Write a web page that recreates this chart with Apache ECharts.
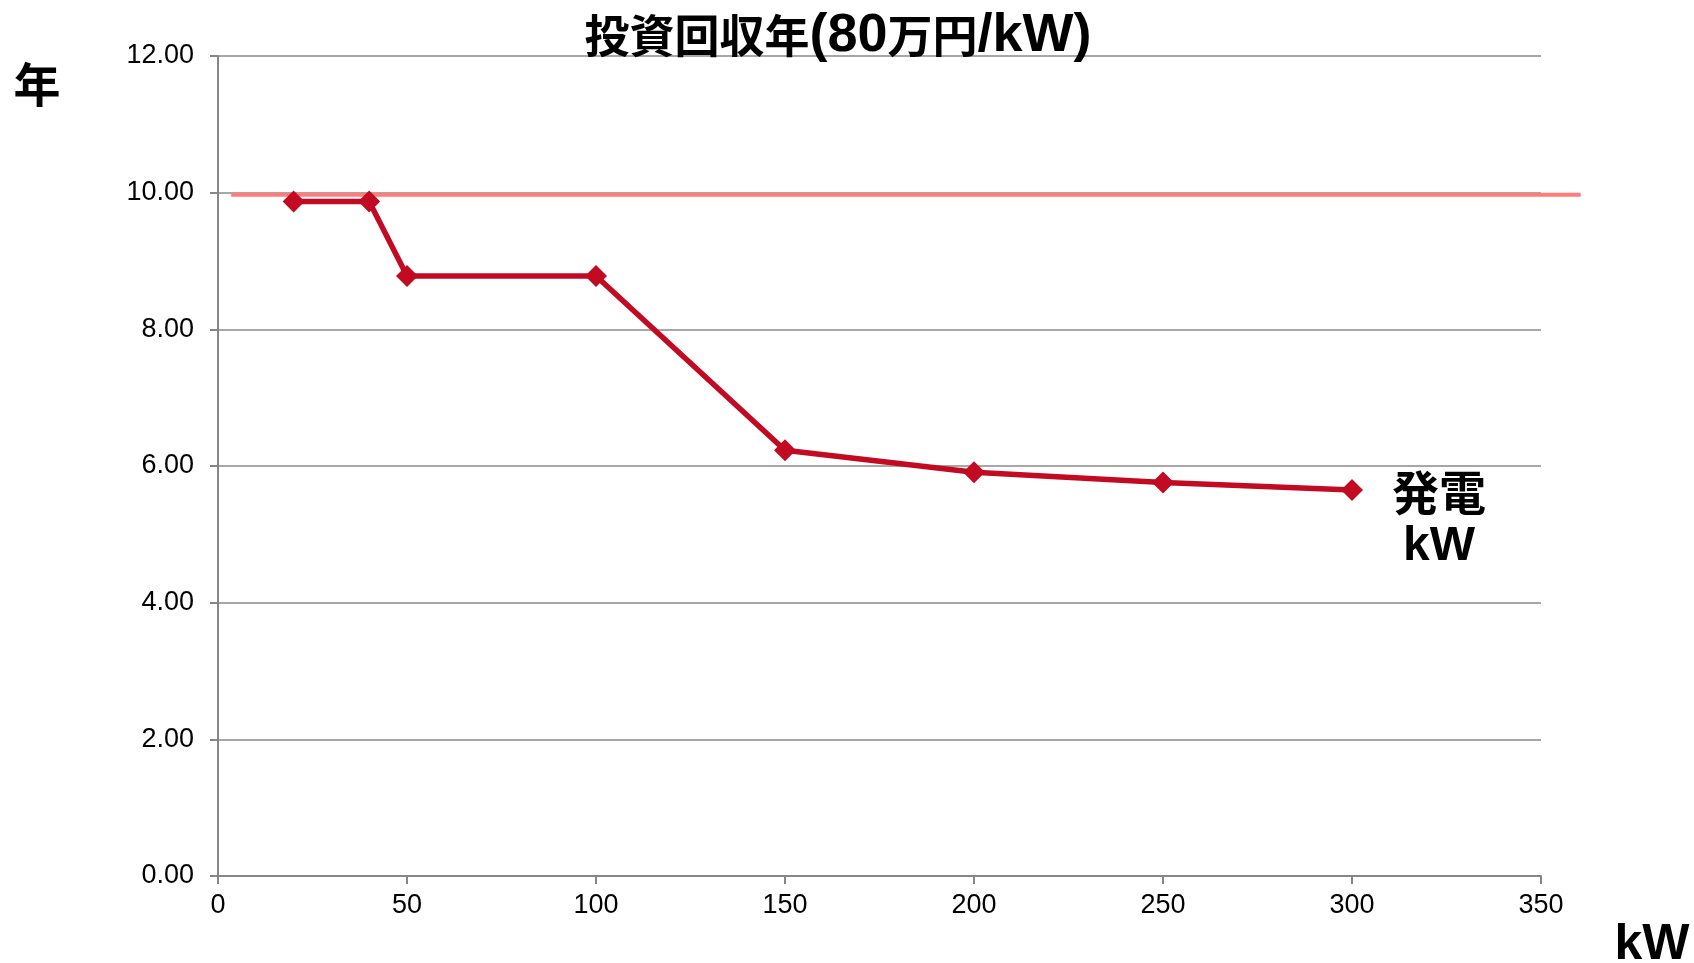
<!DOCTYPE html>
<html>
<head>
<meta charset="utf-8">
<script src="https://cdn.jsdelivr.net/npm/echarts@6/dist/echarts.min.js"></script>
<style>html,body{margin:0;padding:0;background:#fff}#c{width:1694px;height:963px}</style>
</head>
<body>
<div id="c"></div>
<script>
// data
const capacityKW = [20, 40, 50, 100, 150, 200, 250, 300];
const paybackYears = [9.87, 9.87, 8.78, 8.78, 6.23, 5.91, 5.76, 5.65];
const refLineX = [3.5, 360.5];
const refLineY = [9.97, 9.97];
const xTicks = [0, 50, 100, 150, 200, 250, 300, 350];
const yTicks = [0, 2, 4, 6, 8, 10, 12];
const titleCJK1 = '投資回収年';
const titleLat1 = '(80';
const titleCJK2 = '万円';
const titleLat2 = '/kW)';

const chart = echarts.init(document.getElementById('c'));
const cjk = '"Noto Sans CJK JP", sans-serif';
const lat = '"Liberation Sans", Arial, sans-serif';
const gridCol = '#8a8a8a';

// main grid: x 0..350 over [218, 1541]
const gLeft = 218, gRight = 153, W = 1694;
const xMax = xTicks[xTicks.length - 1];
const pxPerUnit = (W - gLeft - gRight) / xMax;
// auxiliary grid with identical scale, but wider extent for the reference line
const auxMax = 370;
const auxRight = W - gLeft - pxPerUnit * auxMax;

chart.setOption({
  animation: false,
  grid: [
    {left: gLeft, right: gRight, top: 56, bottom: 87, containLabel: false},
    {left: gLeft, right: auxRight, top: 56, bottom: 87, containLabel: false}
  ],
  xAxis: [{
    type: 'value', gridIndex: 0, min: xTicks[0], max: xMax, interval: 50,
    axisLine: {show: true, lineStyle: {color: '#868686', width: 2}},
    axisTick: {show: true, length: 8, lineStyle: {color: '#868686', width: 2}},
    splitLine: {show: false},
    axisLabel: {color: '#000', fontFamily: lat, fontSize: 27, margin: 16}
  }, {
    type: 'value', gridIndex: 1, min: 0, max: auxMax, show: false
  }],
  yAxis: [{
    type: 'value', gridIndex: 0, min: yTicks[0], max: yTicks[yTicks.length - 1], interval: 2,
    axisLine: {show: true, lineStyle: {color: '#868686', width: 2}},
    axisTick: {show: true, length: 8, lineStyle: {color: '#868686', width: 2}},
    splitLine: {show: true, lineStyle: {color: gridCol, width: 1.5}},
    axisLabel: {color: '#000', fontFamily: lat, fontSize: 27, margin: 24,
      formatter: v => v.toFixed(2)}
  }, {
    type: 'value', gridIndex: 1, min: yTicks[0], max: yTicks[yTicks.length - 1], show: false
  }],
  series: [
    {
      type: 'line', xAxisIndex: 1, yAxisIndex: 1, clip: false, symbol: 'none', silent: true,
      data: refLineX.map((x, i) => [x, refLineY[i]]),
      lineStyle: {color: '#FF7C7C', width: 4}, z: 2
    },
    {
      type: 'line', xAxisIndex: 0, yAxisIndex: 0, clip: false,
      data: capacityKW.map((x, i) => [x, paybackYears[i]]),
      symbol: 'diamond', symbolSize: 22, showSymbol: true,
      itemStyle: {color: '#C20A22'},
      lineStyle: {color: '#C20A22', width: 5.5}, z: 3
    }
  ],
  graphic: [
    {
      type: 'text', x: 838, y: 36, z: 10,
      style: {
        text: '{c|' + titleCJK1 + '}{l|' + titleLat1 + '}{c|' + titleCJK2 + '}{l|' + titleLat2 + '}',
        align: 'center', verticalAlign: 'middle',
        rich: {
          c: {fontFamily: cjk, fontWeight: 'bold', fontSize: 45, fill: '#000'},
          l: {fontFamily: lat, fontWeight: 'bold', fontSize: 54, fill: '#000'}
        }
      }
    },
    {
      type: 'text', x: 37, y: 84,
      style: {text: '年', fontFamily: cjk, fontWeight: 'bold', fontSize: 47, fill: '#000',
        align: 'center', verticalAlign: 'middle'}
    },
    {
      type: 'text', x: 1439, y: 492,
      style: {text: '発電', fontFamily: cjk, fontWeight: 'bold', fontSize: 47, fill: '#000',
        align: 'center', verticalAlign: 'middle'}
    },
    {
      type: 'text', x: 1439, y: 547,
      style: {text: 'kW', fontFamily: lat, fontWeight: 'bold', fontSize: 48, fill: '#000',
        align: 'center', verticalAlign: 'middle'}
    },
    {
      type: 'text', x: 1652, y: 945,
      style: {text: 'kW', fontFamily: lat, fontWeight: 'bold', fontSize: 50, fill: '#000',
        align: 'center', verticalAlign: 'middle'}
    }
  ]
});
</script>
</body>
</html>
